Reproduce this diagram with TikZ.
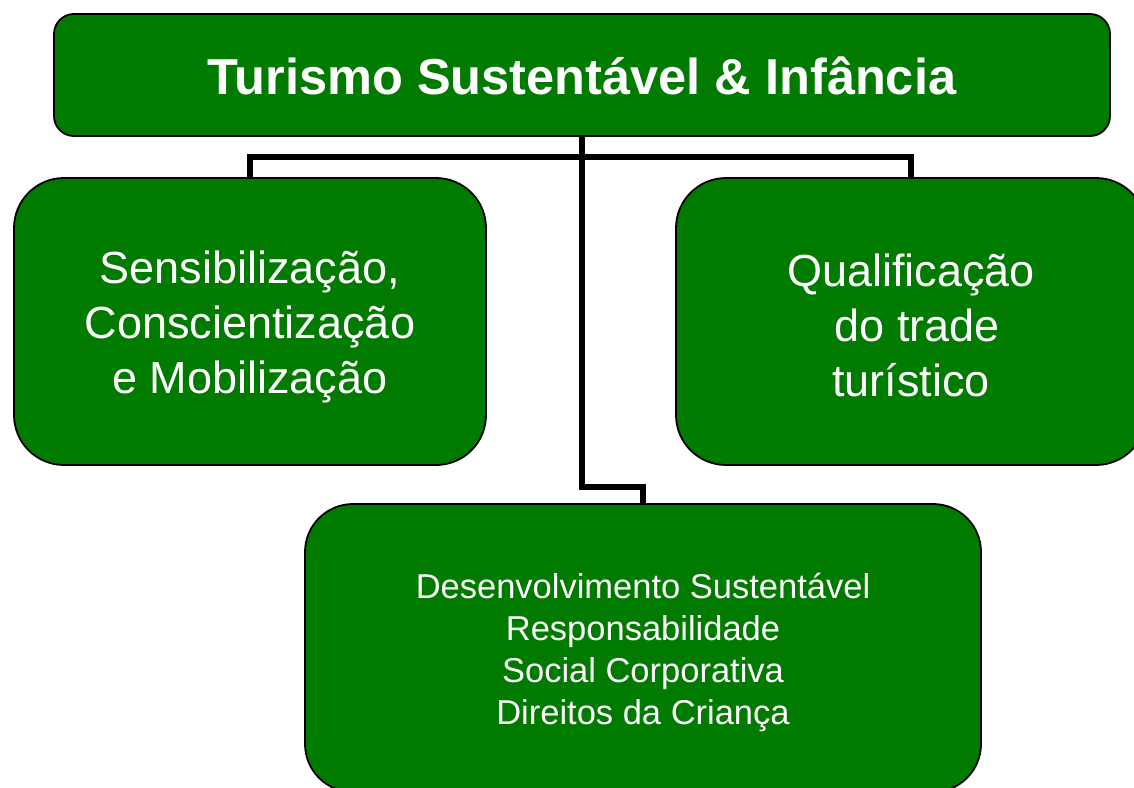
\documentclass[tikz,border=0pt]{standalone}
\usepackage{fontspec}
\setmainfont{Liberation Sans}
\definecolor{boxgreen}{RGB}{0,123,0}
\begin{document}
\begin{tikzpicture}[x=1pt,y=-1pt,
  box/.style={draw=black, line width=1.8pt, fill=boxgreen, inner sep=0pt},
  txt/.style={text=white, inner sep=0pt, align=center},
  conn/.style={draw=black, line width=5.5pt}]
\useasboundingbox (0,0) rectangle (1134,787);
\clip (0,0) rectangle (1134,787);
\node[box, rounded corners=20pt, minimum width=1056pt, minimum height=122pt] (top) at (582,75) {};
\node[txt, font=\bfseries\fontsize{50.5}{60}\selectfont] (toptext) at (582,76) {Turismo Sustentável \& Infância};
\node[box, rounded corners=50pt, minimum width=472pt, minimum height=287pt] (left) at (250,321.5) {};
\node[txt, font=\fontsize{45}{55}\selectfont] (lefttext) at (250,327) {Sensibilização,\\Conscientização\\e Mobilização};
\node[box, rounded corners=50pt, minimum width=470pt, minimum height=287pt] (right) at (911,321.5) {};
\node[txt, font=\fontsize{45}{55}\selectfont] (righttext) at (911,325) {Qualificação\\\hspace*{12.5pt}do trade\\turístico};
\node[box, rounded corners=48pt, minimum width=676pt, minimum height=288pt] (bottom) at (643,648) {};
\node[txt, font=\fontsize{34.5}{42}\selectfont] (bottomtext) at (643,652) {Desenvolvimento Sustentável\\Responsabilidade\\Social Corporativa\\Direitos da Criança};
\draw[conn] (left.north) -- ++(0,-20) -| (right.north);
\draw[conn] (top.south) -- ++(0,350) -| (bottom.north);
\end{tikzpicture}
\end{document}
